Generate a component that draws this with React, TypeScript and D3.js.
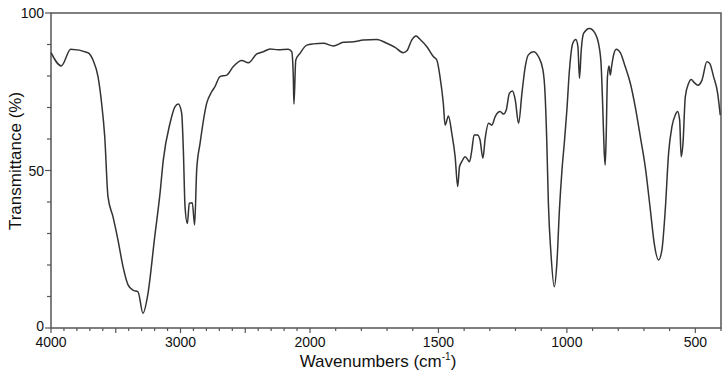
import React from "react";
import * as d3 from "d3";

const wavenumbers: number[] = [
  4000, 3920, 3848, 3714, 3675, 3637, 3612, 3585, 3560, 3521, 3483, 3444, 3405, 3367, 3328, 3290, 3251, 3199, 3158, 3133,
  3081, 3042, 3017, 2991, 2978, 2965, 2947, 2932, 2909, 2891, 2875, 2849, 2798, 2759, 2734, 2695, 2643, 2592, 2527, 2476,
  2411, 2360, 2309, 2245, 2168, 2141, 2129, 2124, 2110, 2077, 2025, 1987, 1948, 1909, 1870, 1831, 1792, 1740, 1701, 1669,
  1637, 1623, 1604, 1587, 1571, 1545, 1520, 1506, 1494, 1481, 1474, 1461, 1448, 1435, 1425, 1418, 1409, 1396, 1379, 1370,
  1361, 1348, 1338, 1327, 1318, 1305, 1292, 1279, 1260, 1247, 1236, 1224, 1212, 1201, 1188, 1175, 1162, 1150, 1130, 1111,
  1093, 1085, 1078, 1072, 1062, 1049, 1039, 1029, 1019, 1009, 1000, 990, 977, 965, 957, 951, 944, 935, 912, 890,
  877, 867, 860, 855, 851, 847, 842, 836, 831, 826, 818, 808, 792, 773, 753, 734, 714, 695, 675, 660,
  643, 630, 617, 604, 591, 578, 569, 561, 555, 548, 539, 526, 516, 504, 490, 474, 455, 444, 429, 413,
  403,
];

const transmittance: number[] = [
  87.4, 83.2, 88.5, 87.4, 85, 79.8, 72.4, 60.7, 41.7, 35.3, 28, 19.5, 13.7, 12, 11.5, 4.7, 11, 29, 42.8, 53.3,
  65, 70.3, 71.1, 68.2, 56.5, 38.5, 33.2, 39.6, 39.8, 32.7, 50.2, 58.6, 71.3, 75, 76.6, 79.8, 80.3, 83, 84.9, 84.2,
  87, 87.7, 88.6, 88.3, 88.5, 87.7, 79.8, 71.1, 85, 87.2, 89.8, 90.2, 90.4, 89.5, 90.7, 90.9, 91.4, 91.6, 90.4, 89.1,
  87.4, 88, 91.4, 92.7, 91.6, 89.3, 86.2, 85, 79.8, 71.3, 64.4, 67.3, 61.8, 54.4, 44.9, 51.2, 52.8, 54.4, 52.8, 56.5,
  61.3, 61.3, 59.7, 53.9, 60.2, 65, 64.4, 67.1, 68.7, 67.9, 69.2, 74.5, 75.2, 72.4, 65, 74.5, 83, 86.7, 87.7, 86.2,
  81.9, 74.5, 58.6, 39.6, 23.7, 13.1, 20.5, 37.5, 50.2, 59.7, 69.2, 81.9, 90.4, 91.6, 89.3, 79.3, 88.3, 93.5, 95.1, 93.5,
  90.4, 84, 69.2, 56.5, 51.7, 60.7, 79.8, 83.2, 80.3, 83, 86.7, 88.5, 87.4, 83, 77.7, 70.3, 60.7, 51.2, 37.5, 26.9,
  21.6, 24.8, 37.5, 55.5, 63.9, 67.6, 68.7, 66, 54.4, 58.6, 73.4, 77.7, 78.9, 77.9, 77.1, 78.7, 84.5, 84, 79.8, 74.5,
  67.6,
];

const xMajorTicks: number[] = [4000, 3000, 2000, 1500, 1000, 500];
const xMinorTicks: number[] = d3.range(4000, 399, -100);
const yMajorTicks: number[] = [0, 50, 100];
const yMinorTicks: number[] = d3.range(0, 101, 10);

const xTitle = "Wavenumbers (cm";
const yTitle = "Transmittance (%)";

export default function App() {
  const width = 728;
  const height = 376;
  const left = 51;
  const right = 721;
  const top = 13;
  const bottom = 328;

  const x = d3.scaleLinear().domain([4000, 2000, 400]).range([left, 310, right]);
  const y = d3.scaleLinear().domain([0, 100]).range([bottom, top]);

  const pts: [number, number][] = wavenumbers.map((w, i) => [w, transmittance[i]]);
  const line = d3
    .line<[number, number]>()
    .x((d) => x(d[0]))
    .y((d) => y(d[1]))
    .curve(d3.curveMonotoneX);

  const font = "'Liberation Sans', Arial, Helvetica, sans-serif";
  const axisColor = "#555";

  return (
    <svg
      width={width}
      height={height}
      style={{ position: "absolute", left: 0, top: 0, background: "#fff" }}
      fontFamily={font}
    >
      <rect x={0} y={0} width={width} height={height} fill="#fff" />
      <rect
        x={left}
        y={top}
        width={right - left}
        height={bottom - top}
        fill="none"
        stroke={axisColor}
        strokeWidth={1.5}
      />
      {xMinorTicks.map((t) => (
        <line
          key={"xm" + t}
          x1={x(t)}
          x2={x(t)}
          y1={bottom}
          y2={bottom + (t % 500 === 0 ? 5 : 3)}
          stroke={axisColor}
          strokeWidth={1.2}
        />
      ))}
      {xMajorTicks.map((t) => (
        <text
          key={"xl" + t}
          x={x(t)}
          y={bottom + 19}
          textAnchor="middle"
          fontSize={14}
          fill="#111"
        >
          {t}
        </text>
      ))}
      {yMinorTicks.map((t) => (
        <line
          key={"ym" + t}
          x1={left}
          x2={left - (t % 50 === 0 ? 6 : 4)}
          y1={y(t)}
          y2={y(t)}
          stroke={axisColor}
          strokeWidth={1.2}
        />
      ))}
      {yMajorTicks.map((t) => (
        <text
          key={"yl" + t}
          x={left - 7}
          y={y(t) + (t === 0 ? 3 : 5)}
          textAnchor="end"
          fontSize={14}
          fill="#111"
        >
          {t}
        </text>
      ))}
      <path
        d={line(pts) || ""}
        fill="none"
        stroke="#333"
        strokeWidth={1.5}
        strokeLinejoin="round"
      />
      <text x={378} y={367} textAnchor="middle" fontSize={17} fill="#111">
        {xTitle}
        <tspan fontSize={10} dy={-7}>-1</tspan>
        <tspan dy={7}>)</tspan>
      </text>
      <text
        transform={`translate(21, ${161}) rotate(-90)`}
        textAnchor="middle"
        fontSize={17}
        fill="#111"
      >
        {yTitle}
      </text>
    </svg>
  );
}
